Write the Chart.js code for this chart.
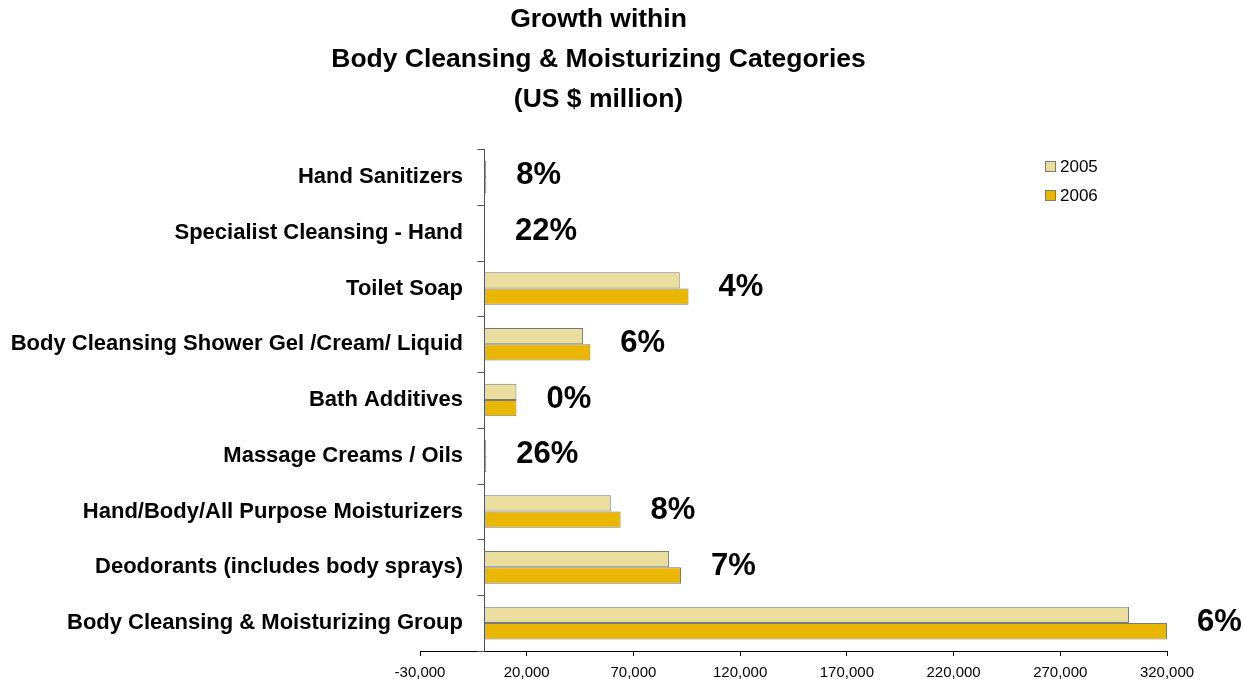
<!DOCTYPE html>
<html>
<head>
<meta charset="utf-8">
<script src="https://cdn.jsdelivr.net/npm/chart.js@4"></script>
<style>
html,body{margin:0;padding:0;background:#fff;}
#wrap{width:1243px;height:679px;position:relative;}
</style>
</head>
<body>
<div id="wrap"><canvas id="c"></canvas></div>
<script>
const categories = [
  'Hand Sanitizers',
  'Specialist Cleansing - Hand',
  'Toilet Soap',
  'Body Cleansing Shower Gel /Cream/ Liquid',
  'Bath Additives',
  'Massage Creams / Oils',
  'Hand/Body/All Purpose Moisturizers',
  'Deodorants (includes body sprays)',
  'Body Cleansing & Moisturizing Group'
];
const series2005 = [1000, 420, 91700, 46400, 15200, 850, 59400, 86700, 302200];
const series2006 = [1080, 510, 95800, 49800, 15200, 1070, 64000, 92300, 320000];
const growthLabels = ['8%', '22%', '4%', '6%', '0%', '26%', '8%', '7%', '6%'];
const seriesNames = ['2005', '2006'];
const xTickValues = [-30000, 20000, 70000, 120000, 170000, 220000, 270000, 320000];
const titleLines = ['Growth within', 'Body Cleansing & Moisturizing Categories', '(US $ million)'];

const FONT = '"Liberation Sans", Arial, Helvetica, sans-serif';
const COLORS = ['#EADE9F', '#EAB700'];
const BORDER = '#7A7A7A';
const Y_LABEL_FONT = 'bold 22px ' + FONT;

// widest category label, used so right-aligned labels end just left of the zero axis
const measureCtx = document.createElement('canvas').getContext('2d');
measureCtx.font = Y_LABEL_FONT;
const widestLabel = Math.max(...categories.map(c => measureCtx.measureText(c).width));

const axisPlugin = {
  id: 'zeroAxis',
  afterDatasetsDraw(chart) {
    const {ctx, chartArea, scales} = chart;
    const x0 = Math.round(scales.x.getPixelForValue(0)) + 0.5;
    ctx.save();
    ctx.strokeStyle = '#555';
    ctx.lineWidth = 1;
    ctx.beginPath();
    ctx.moveTo(x0, chartArea.top);
    ctx.lineTo(x0, chartArea.bottom);
    for (let i = 0; i <= categories.length; i++) {
      const y = Math.round(scales.y.getPixelForValue(i - 0.5)) + 0.5;
      ctx.moveTo(x0 - 7, y);
      ctx.lineTo(x0, y);
    }
    ctx.stroke();
    ctx.restore();
  }
};

const growthPlugin = {
  id: 'growth',
  afterDatasetsDraw(chart) {
    const {ctx, scales} = chart;
    ctx.save();
    ctx.font = 'bold 31px ' + FONT;
    ctx.fillStyle = '#000';
    ctx.textAlign = 'left';
    ctx.textBaseline = 'middle';
    growthLabels.forEach((lab, i) => {
      const end = Math.max(series2005[i], series2006[i]);
      const x = scales.x.getPixelForValue(end) + 30;
      const y = scales.y.getPixelForValue(i) - 1;
      ctx.fillText(lab, x, y);
    });
    ctx.restore();
  }
};

const legendPlugin = {
  id: 'boxLegend',
  afterDraw(chart) {
    const {ctx, chartArea} = chart;
    ctx.save();
    ctx.font = '17px ' + FONT;
    ctx.textAlign = 'left';
    ctx.textBaseline = 'middle';
    const left = chartArea.right - 122;
    seriesNames.forEach((name, i) => {
      const cy = chartArea.top + 18 + i * 29;
      ctx.fillStyle = COLORS[i];
      ctx.fillRect(left + 0.5, cy - 5.5, 10, 10);
      ctx.strokeStyle = BORDER;
      ctx.lineWidth = 1;
      ctx.strokeRect(left + 0.5, cy - 5.5, 10, 10);
      ctx.fillStyle = '#000';
      ctx.fillText(name, left + 15, cy);
    });
    ctx.restore();
  }
};

new Chart(document.getElementById('c'), {
  type: 'bar',
  data: {
    labels: categories,
    datasets: [
      { label: seriesNames[0], data: series2005, backgroundColor: COLORS[0], borderColor: BORDER, borderWidth: 1, borderSkipped: false },
      { label: seriesNames[1], data: series2006, backgroundColor: COLORS[1], borderColor: BORDER, borderWidth: 1, borderSkipped: false }
    ]
  },
  options: {
    indexAxis: 'y',
    responsive: true,
    maintainAspectRatio: false,
    animation: false,
    devicePixelRatio: 1,
    datasets: { bar: { barPercentage: 1, categoryPercentage: 0.585 } },
    layout: { padding: { left: 30, right: 76, top: 0, bottom: 0 } },
    scales: {
      x: {
        type: 'linear',
        min: -30000,
        max: 320000,
        afterBuildTicks: s => { s.ticks = xTickValues.map(v => ({ value: v })); },
        afterFit: s => { s.height = 28; },
        ticks: {
          autoSkip: false,
          maxRotation: 0,
          padding: 8,
          color: '#000',
          font: { family: FONT, size: 15 },
          callback: v => Number(v).toLocaleString('en-US')
        },
        grid: { drawOnChartArea: false, drawTicks: true, tickLength: 5, tickColor: '#000' },
        border: { display: true, color: '#000', width: 1 }
      },
      y: {
        type: 'category',
        afterFit: s => { s.width = 390; },
        ticks: {
          autoSkip: false,
          mirror: true,
          crossAlign: 'far',
          padding: 43 - widestLabel,
          color: '#000',
          font: { family: FONT, size: 22, weight: 'bold' }
        },
        grid: { display: false, drawTicks: false },
        border: { display: false }
      }
    },
    plugins: {
      legend: { display: false },
      tooltip: { enabled: false },
      title: {
        display: true,
        text: titleLines,
        color: '#000',
        font: { family: FONT, size: 26.5, weight: 'bold', lineHeight: 40 / 26.5 },
        padding: { top: 0, bottom: 29 }
      }
    }
  },
  plugins: [axisPlugin, growthPlugin, legendPlugin]
});
</script>
</body>
</html>
